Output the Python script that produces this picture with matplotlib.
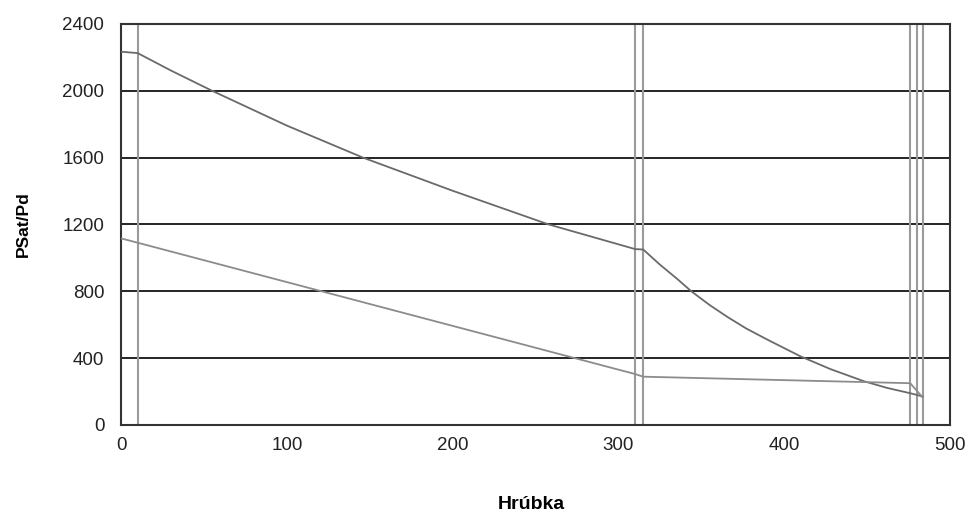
import matplotlib.pyplot as plt

# layer boundaries (vertical lines)
bounds = [10, 310, 315, 476, 480, 483.5]

# upper curve
hi_x = [0, 10, 30, 55, 100, 146, 200, 258, 310, 315, 325, 335, 344, 355, 366, 377, 390, 400, 410, 428, 448, 462, 476, 480, 483.5]
hi_y = [2234, 2226, 2122, 2000, 1792, 1600, 1402, 1200, 1053, 1050, 960, 878, 800, 718, 645, 578, 510, 460, 410, 334, 262, 222, 190, 180, 170]

# lower curve
lo_x = [0, 10, 310, 315, 476, 483.5]
lo_y = [1117, 1091, 305, 289, 250, 165]

xticks = [0, 100, 200, 300, 400, 500]
yticks = [0, 400, 800, 1200, 1600, 2000, 2400]

plt.rcParams['font.family'] = ['Liberation Sans', 'DejaVu Sans']

fig = plt.figure(figsize=(9.69, 5.15), dpi=100)
ax = fig.add_axes([0.1249, 0.1748, 0.8555, 0.7786])

for y in yticks:
	ax.axhline(y, color='black', lw=1.2, zorder=1)
for b in bounds:
	ax.axvline(b, color='#9a9a9a', lw=1.5, zorder=2)

ax.plot(hi_x, hi_y, color='#6a6a6a', lw=1.3, zorder=3)
ax.plot(lo_x, lo_y, color='#8c8c8c', lw=1.3, zorder=3)

ax.set_xlim(0, 500)
ax.set_ylim(0, 2400)
ax.set_xticks(xticks)
ax.set_yticks(yticks)
ax.tick_params(length=0, labelsize=13.5, colors='#222222')
ax.tick_params(axis='x', pad=9)
ax.tick_params(axis='y', pad=12)
for s in ax.spines.values():
	s.set_color('#333333')
	s.set_linewidth(1.5)

fig.text(0.024, 0.565, 'PSat/Pd', rotation=90, ha='center', va='center', fontsize=12.5, fontweight='bold')
fig.text(0.548, 0.004, 'Hrúbka', ha='center', va='bottom', fontsize=14, fontweight='bold')

fig.savefig('out.png', dpi=100)
